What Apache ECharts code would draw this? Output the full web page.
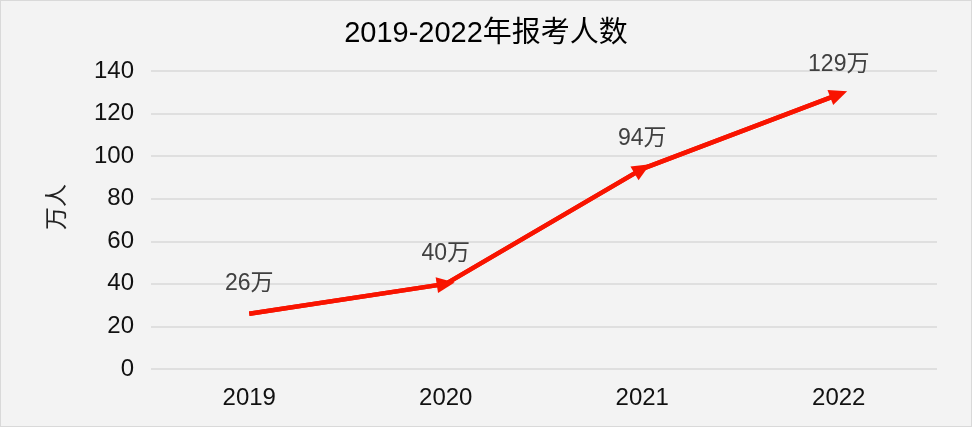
<!DOCTYPE html>
<html><head><meta charset="utf-8">
<script src="https://cdn.jsdelivr.net/npm/echarts@6/dist/echarts.min.js"></script>
<style>
html,body{margin:0;padding:0;background:#fff;}
#c{width:970px;height:425px;border:1px solid #d9d9d9;background:#f3f3f3;}
</style></head>
<body><div id="c"></div>
<script>
var categories = ['2019','2020','2021','2022'];
var values = [26, 40, 94, 129];
var labels = ['26万','40万','94万','129万'];
var yTicks = [0, 20, 40, 60, 80, 100, 120, 140];

var FONT = '"Liberation Sans", "Noto Sans CJK SC", sans-serif';
var segs = [];
for (var i = 1; i < categories.length; i++) {
  segs.push([{coord:[categories[i-1], values[i-1]], symbol:'none'}, {coord:[categories[i], values[i]], symbol:'triangle'}]);
}
var chart = echarts.init(document.getElementById('c'));
chart.setOption({
  backgroundColor:'#f3f3f3',
  animation:false,
  title:{text:'2019-2022年报考人数', left:'center', top:13,
    textStyle:{fontFamily:FONT, fontSize:29, fontWeight:'normal', color:'#000'}},
  grid:{left:150, right:34, top:70, bottom:57},
  xAxis:{type:'category', data:categories, boundaryGap:true,
    axisLine:{show:false}, axisTick:{show:false},
    axisLabel:{fontFamily:FONT, fontSize:24, color:'#111', margin:17}},
  yAxis:{type:'value', min:yTicks[0], max:yTicks[yTicks.length-1], interval:20,
    name:'万人', nameLocation:'middle', nameGap:84, nameRotate:90,
    nameTextStyle:{fontFamily:'"Noto Sans CJK SC", sans-serif', fontSize:23, color:'#222', padding:[0,0,0,26]},
    axisLine:{show:false}, axisTick:{show:false},
    axisLabel:{fontFamily:FONT, fontSize:24, color:'#111', margin:17},
    splitLine:{lineStyle:{color:'#d9d9d9', width:1.5}}},
  series:[{
    type:'line', data:values, symbol:'circle', symbolSize:1,
    itemStyle:{color:'rgba(0,0,0,0)'},
    lineStyle:{color:'#f81400', width:4.5},
    label:{show:true, position:'top', distance:18, formatter:function(p){return labels[p.dataIndex];},
      fontFamily:FONT, fontSize:23, color:'#404040'},
    markLine:{silent:true, symbolSize:[16,18], label:{show:false},
      lineStyle:{color:'#f81400', width:4.5, type:'solid'},
      itemStyle:{color:'#f81400'},
      emphasis:{disabled:true},
      data:segs}
  }]
});
</script></body></html>
